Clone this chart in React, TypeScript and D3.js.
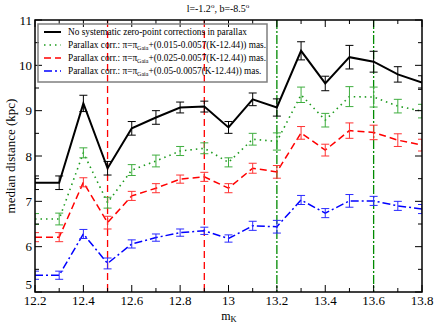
import * as d3 from "d3";

const magK = [12.2, 12.3, 12.4, 12.5, 12.6, 12.7, 12.8, 12.9, 13.0, 13.1, 13.2, 13.3, 13.4, 13.5, 13.6, 13.7, 13.8];

const noCorr = [7.41, 7.41, 9.16, 7.73, 8.61, 8.85, 9.07, 9.09, 8.63, 9.25, 9.07, 10.32, 9.6, 10.18, 10.08, 9.8, 9.62];
const noCorrErr = [0.15, 0.15, 0.18, 0.15, 0.15, 0.15, 0.12, 0.12, 0.13, 0.14, 0.19, 0.2, 0.16, 0.26, 0.23, 0.17, 0.15];

const corr015 = [6.61, 6.61, 8.07, 6.97, 7.69, 7.89, 8.11, 8.17, 7.86, 8.37, 8.32, 9.35, 8.79, 9.31, 9.3, 9.1, 8.99];
const corr015Err = [0.12, 0.13, 0.11, 0.12, 0.12, 0.13, 0.1, 0.12, 0.1, 0.13, 0.19, 0.17, 0.15, 0.22, 0.22, 0.15, 0.15];

const corr025 = [6.21, 6.21, 7.42, 6.53, 7.12, 7.29, 7.49, 7.54, 7.29, 7.73, 7.65, 8.51, 8.13, 8.56, 8.52, 8.35, 8.24];
const corr025Err = [0.1, 0.1, 0.1, 0.14, 0.1, 0.1, 0.09, 0.1, 0.1, 0.11, 0.14, 0.14, 0.13, 0.17, 0.16, 0.14, 0.13];

const corr05 = [5.37, 5.37, 6.28, 5.63, 6.06, 6.2, 6.31, 6.35, 6.18, 6.46, 6.44, 7.03, 6.74, 7.01, 7.01, 6.9, 6.83];
const corr05Err = [0.09, 0.09, 0.1, 0.12, 0.09, 0.08, 0.08, 0.08, 0.08, 0.1, 0.14, 0.1, 0.1, 0.14, 0.1, 0.1, 0.1];

const redCuts = [12.5, 12.9];
const greenCuts = [13.2, 13.6];

const xTicks = [12.2, 12.4, 12.6, 12.8, 13, 13.2, 13.4, 13.6, 13.8];
const yTicks = [5, 6, 7, 8, 9, 10, 11];

const series = [
  { name: "none", vals: noCorr, errs: noCorrErr, color: "#000000", bar: "#000000", width: 2, dash: "", coef: "" },
  { name: "0.015", vals: corr015, errs: corr015Err, color: "#1c9a1c", bar: "#3fae3f", width: 1.6, dash: "1.5,4", coef: "0.015" },
  { name: "0.025", vals: corr025, errs: corr025Err, color: "#ff0000", bar: "#ff3333", width: 1.5, dash: "7,4", coef: "0.025" },
  { name: "0.05", vals: corr05, errs: corr05Err, color: "#0000ff", bar: "#2a2aff", width: 1.5, dash: "8,3,2,3", coef: "0.05" },
];

const W = 436;
const H = 323;
const m = { left: 35, right: 14, top: 20, bottom: 31 };
const serif = "Liberation Serif, Times New Roman, Times, serif";

export default function App() {
  const x = d3.scaleLinear().domain([12.2, 13.8]).range([m.left, W - m.right]);
  const y = d3.scaleLinear().domain([5, 11]).range([H - m.bottom, m.top]);
  const line = d3
    .line<number>()
    .x((_, i) => x(magK[i]))
    .y((d) => y(d));

  const xMinor = d3.range(12.2, 13.81, 0.1).map((v) => +v.toFixed(1));
  const yMinor = d3.range(5, 11.01, 0.5);
  const x0 = x.range()[0];
  const x1 = x.range()[1];
  const y0 = y.range()[0];
  const y1 = y.range()[1];

  return (
    <svg width={W} height={H} style={{ position: "absolute", left: 0, top: 0 }} fontFamily={serif}>
      <rect width={W} height={H} fill="#fff" />
      <defs>
        <clipPath id="plot">
          <rect x={x0} y={y1} width={x1 - x0} height={y0 - y1} />
        </clipPath>
      </defs>

      {/* title */}
      <text x={218} y={12} fontSize={10} textAnchor="middle">
        l=-1.2<tspan dy={-4} fontSize={7}>o</tspan>
        <tspan dy={4}>, b=-8.5</tspan>
        <tspan dy={-4} fontSize={7}>o</tspan>
      </text>

      {/* vertical cuts */}
      {redCuts.map((k) => (
        <line key={"r" + k} x1={x(k)} x2={x(k)} y1={y1} y2={y0} stroke="#ff0000" strokeWidth={1.3} strokeDasharray="7,4" />
      ))}
      {greenCuts.map((k) => (
        <line key={"g" + k} x1={x(k)} x2={x(k)} y1={y1} y2={y0} stroke="#008a00" strokeWidth={1.3} strokeDasharray="9,2,2,2" />
      ))}

      {/* series */}
      <g clipPath="url(#plot)">
        {series.map((s) => (
          <g key={s.name}>
            <path d={line(s.vals) || ""} fill="none" stroke={s.color} strokeWidth={s.width} strokeDasharray={s.dash} />
            {s.vals.map((v, i) => {
              const cx = x(magK[i]);
              const ya = y(v + s.errs[i]);
              const yb = y(v - s.errs[i]);
              return (
                <g key={i} stroke={s.bar} strokeWidth={1}>
                  <line x1={cx} x2={cx} y1={ya} y2={yb} />
                  <line x1={cx - 4} x2={cx + 4} y1={ya} y2={ya} />
                  <line x1={cx - 4} x2={cx + 4} y1={yb} y2={yb} />
                </g>
              );
            })}
          </g>
        ))}
      </g>

      {/* frame and ticks */}
      <g stroke="#000" strokeWidth={1}>
        {xMinor.map((v) => {
          const major = xTicks.some((t) => Math.abs(t - v) < 1e-6);
          const len = major ? 7 : 4;
          return (
            <g key={"x" + v}>
              <line x1={x(v)} x2={x(v)} y1={y0} y2={y0 - len} />
              <line x1={x(v)} x2={x(v)} y1={y1} y2={y1 + len} />
            </g>
          );
        })}
        {yMinor.map((v) => {
          const len = Number.isInteger(v) ? 7 : 4;
          return (
            <g key={"y" + v}>
              <line x1={x0} x2={x0 + len} y1={y(v)} y2={y(v)} />
              <line x1={x1} x2={x1 - len} y1={y(v)} y2={y(v)} />
            </g>
          );
        })}
      </g>
      <rect x={x0} y={y1} width={x1 - x0} height={y0 - y1} fill="none" stroke="#000" strokeWidth={1.5} />

      {/* tick labels */}
      {xTicks.map((t) => (
        <text key={"xl" + t} x={x(t)} y={y0 + 13} fontSize={13} textAnchor="middle">
          {d3.format("~g")(t)}
        </text>
      ))}
      {yTicks.map((t) => (
        <text key={"yl" + t} x={x0 - 3} y={y(t) + (t === 5 ? -3 : 4.5)} fontSize={13} textAnchor="end">
          {t}
        </text>
      ))}

      {/* axis titles */}
      <text x={229} y={320} fontSize={12} textAnchor="middle">
        m<tspan dy={2} fontSize={8.5}>K</tspan>
      </text>
      <text transform={`translate(15,${(y0 + y1) / 2}) rotate(-90)`} fontSize={13} textAnchor="middle">
        median distance (kpc)
      </text>

      {/* legend */}
      <rect x={38} y={24} width={229} height={58} fill="none" stroke="#7f7f7f" strokeWidth={1.5} />
      {series.map((s, i) => {
        const ly = 32 + i * 13;
        return (
          <g key={"lg" + s.name}>
            <line x1={44} x2={61} y1={ly} y2={ly} stroke={s.color} strokeWidth={s.width} strokeDasharray={s.dash} />
            {s.coef === "" ? (
              <text x={68} y={ly + 3} fontSize={9.3}>
                No systematic zero-point corrections in parallax
              </text>
            ) : (
              <text x={68} y={ly + 3} fontSize={9.3}>
                Parallax corr.: π=π<tspan dy={2} fontSize={6}>Gaia</tspan>
                <tspan dy={-2}>+({s.coef}-0.0057(K-12.44)) mas.</tspan>
              </text>
            )}
          </g>
        );
      })}
    </svg>
  );
}
